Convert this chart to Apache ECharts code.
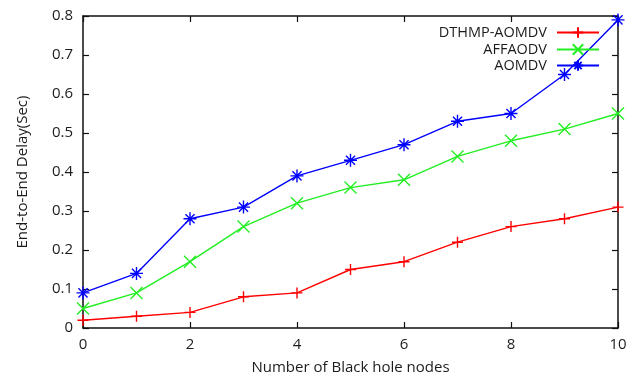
<!DOCTYPE html>
<html>
<head>
<meta charset="utf-8">
<script src="https://cdn.jsdelivr.net/npm/echarts@6/dist/echarts.min.js"></script>
<style>html,body{margin:0;padding:0;background:#fff}#c{width:641px;height:380px}</style>
</head>
<body>
<div id="c"></div>
<script>
var xValues = [0, 1, 2, 3, 4, 5, 6, 7, 8, 9, 10];
var dthmp = [0.02, 0.03, 0.04, 0.08, 0.09, 0.15, 0.17, 0.22, 0.26, 0.28, 0.31];
var affaodv = [0.05, 0.09, 0.17, 0.26, 0.32, 0.36, 0.38, 0.44, 0.48, 0.51, 0.55];
var aomdv = [0.09, 0.14, 0.28, 0.31, 0.39, 0.43, 0.47, 0.53, 0.55, 0.65, 0.79];
var seriesNames = ['DTHMP-AOMDV', 'AFFAODV', 'AOMDV'];
var xTitle = 'Number of Black hole nodes';
var yTitle = 'End-to-End Delay(Sec)';

function pairs(arr) { return xValues.map(function (x, i) { return [x, arr[i]]; }); }

var FONT = 'Open Sans';
var TXT = '#1c1c1c';
var plusSym = 'path://M0,5 L10,5 M5,0 L5,10';
var crossSym = 'path://M0,0 L10,10 M0,10 L10,0';
var starSym = 'path://M0,5 L10,5 M5,0 L5,10 M1.5,1.5 L8.5,8.5 M1.5,8.5 L8.5,1.5';

function mk(name, data, color, sym, size) {
  return {
    name: name, type: 'line', data: pairs(data),
    symbol: sym, symbolSize: size, showSymbol: true,
    itemStyle: { color: color, borderColor: color, borderWidth: 1.4 },
    lineStyle: { color: color, width: 1.4 },
    emphasis: { disabled: true },
    animation: false, z: 3
  };
}

var axisLine = { show: true, onZero: false, lineStyle: { color: '#111', width: 1.5 } };
var tick = { show: true, inside: true, length: 6, lineStyle: { color: '#111', width: 1.2 } };

function leg(name, top) {
  return {
    data: [name], right: 41, top: top, orient: 'vertical', align: 'right',
    itemWidth: 42, itemHeight: 13, padding: 0,
    textStyle: { fontFamily: FONT, fontSize: 14.5, color: TXT, padding: [0, 5, 0, 0] },
    selectedMode: false
  };
}

var chart = echarts.init(document.getElementById('c'), null, { renderer: 'canvas' });
chart.setOption({
  backgroundColor: '#fff',
  animation: false,
  grid: { left: 83, right: 23, top: 16, bottom: 52 },
  legend: [leg(seriesNames[0], 25), leg(seriesNames[1], 42), leg(seriesNames[2], 58)],
  xAxis: [{
    type: 'value', min: 0, max: 10, interval: 2, position: 'bottom',
    axisLine: axisLine, axisTick: tick, splitLine: { show: false },
    axisLabel: { fontFamily: FONT, fontSize: 15, color: TXT, margin: 9 },
    name: xTitle, nameLocation: 'middle', nameGap: 32,
    nameTextStyle: { fontFamily: FONT, fontSize: 15, color: TXT }
  }, {
    type: 'value', min: 0, max: 10, interval: 2, position: 'top',
    axisLine: axisLine, axisTick: tick, splitLine: { show: false },
    axisLabel: { show: false }
  }],
  yAxis: [{
    type: 'value', min: 0, max: 0.8, interval: 0.1, position: 'left',
    axisLine: axisLine, axisTick: tick, splitLine: { show: false },
    axisLabel: { fontFamily: FONT, fontSize: 15, color: TXT, margin: 10 },
    name: yTitle, nameLocation: 'middle', nameGap: 53, nameRotate: 90,
    nameTextStyle: { fontFamily: FONT, fontSize: 15, color: TXT }
  }, {
    type: 'value', min: 0, max: 0.8, interval: 0.1, position: 'right',
    axisLine: axisLine, axisTick: tick, splitLine: { show: false },
    axisLabel: { show: false }
  }],
  series: [
    mk(seriesNames[0], dthmp, '#ff0000', plusSym, 11),
    mk(seriesNames[1], affaodv, '#22ee22', crossSym, 12),
    mk(seriesNames[2], aomdv, '#0000ff', starSym, 13)
  ]
});
</script>
</body>
</html>
